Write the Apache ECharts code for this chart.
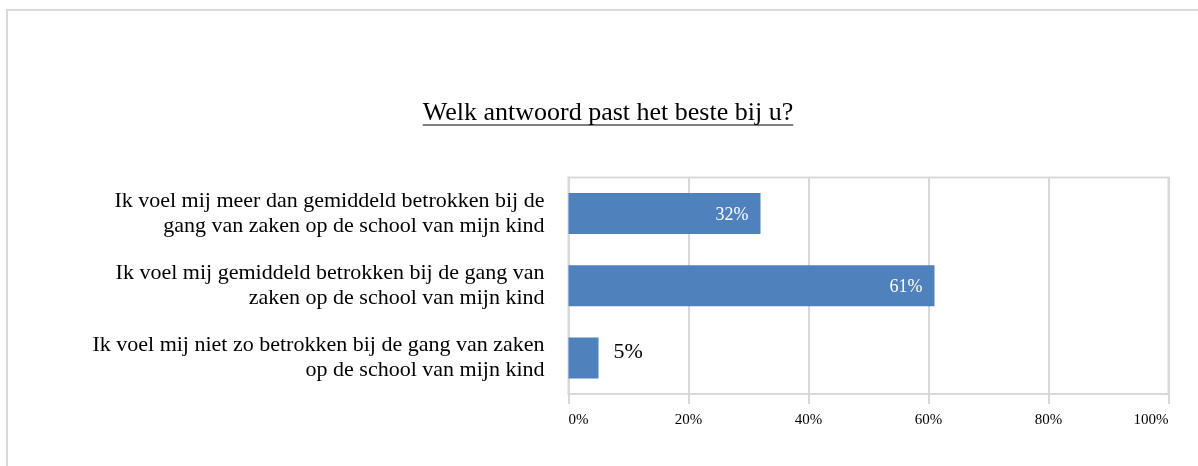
<!DOCTYPE html>
<html>
<head>
<meta charset="utf-8">
<title>Welk antwoord past het beste bij u?</title>
<script src="https://cdn.jsdelivr.net/npm/echarts@6/dist/echarts.min.js"></script>
<style>
    html, body { margin: 0; padding: 0; background: #fff; }
    #chart { width: 1198px; height: 466px; }
</style>
</head>
<body>
<div id="chart"></div>
<script>
// data
var titleText = 'Welk antwoord past het beste bij u?';
var categories = [
    'Ik voel mij meer dan gemiddeld betrokken bij de\ngang van zaken op de school van mijn kind',
    'Ik voel mij gemiddeld betrokken bij de gang van\nzaken op de school van mijn kind',
    'Ik voel mij niet zo betrokken bij de gang van zaken\nop de school van mijn kind'
];
var values = [32, 61, 5];
var labelInside = [true, true, false];
var tickValues = [0, 20, 40, 60, 80, 100];

var serif = '"Liberation Serif", "Times New Roman", serif';
var gridColor = '#d9d9d9';

// title width for the underline
var ctx = document.createElement('canvas').getContext('2d');
ctx.font = '26px ' + serif;
var titleW = ctx.measureText(titleText).width;
var titleX = 608;

// bar items with label per bar
var barData = values.map(function (v, i) {
    var inside = labelInside[i];
    return {
        value: v,
        label: inside ? {
            position: 'insideRight',
            distance: 12,
            color: '#fff',
            fontSize: 18,
            offset: [0, 2]
        } : {
            position: 'right',
            distance: 15,
            color: '#000',
            fontSize: 22,
            offset: [0, -6]
        }
    };
});

var myChart = echarts.init(document.getElementById('chart'), null, { renderer: 'canvas' });
var option = {
    animation: false,
    backgroundColor: '#fff',
    graphic: [
        {
            type: 'rect',
            shape: { x: 7, y: 10, width: 1200, height: 500 },
            style: { fill: 'none', stroke: gridColor, lineWidth: 2 },
            silent: true
        },
        {
            type: 'text',
            x: titleX,
            y: 113,
            style: {
                text: titleText,
                font: '26px ' + serif,
                fill: '#000',
                align: 'center',
                verticalAlign: 'middle'
            }
        },
        {
            type: 'line',
            shape: { x1: titleX - titleW / 2, y1: 125, x2: titleX + titleW / 2, y2: 125 },
            style: { stroke: '#000', lineWidth: 1.2 }
        }
    ],
    grid: {
        left: 568.5,
        right: 29.5,
        top: 177.5,
        height: 216.5,
        show: true,
        borderColor: gridColor,
        borderWidth: 2,
        containLabel: false
    },
    xAxis: {
        type: 'value',
        min: 0,
        max: 100,
        interval: 20,
        axisLine: { show: true, lineStyle: { color: gridColor, width: 2 } },
        axisTick: { show: true, length: 10, lineStyle: { color: gridColor, width: 2 } },
        splitLine: { show: true, lineStyle: { color: gridColor, width: 2 } },
        axisLabel: {
            margin: 19,
            fontFamily: serif,
            fontSize: 15,
            color: '#000',
            alignMinLabel: 'left',
            alignMaxLabel: 'right',
            formatter: function (v) {
                return tickValues.indexOf(v) >= 0 ? v + '%' : '';
            }
        }
    },
    yAxis: {
        type: 'category',
        inverse: true,
        data: categories,
        axisLine: { show: true, lineStyle: { color: gridColor, width: 2 } },
        axisTick: { show: false },
        axisLabel: {
            margin: 24,
            fontFamily: serif,
            fontSize: 22,
            lineHeight: 25,
            color: '#000',
            align: 'right'
        }
    },
    series: [{
        type: 'bar',
        data: barData,
        barWidth: 41,
        itemStyle: { color: '#4f81bd' },
        label: {
            show: true,
            fontFamily: serif,
            formatter: '{c}%'
        }
    }]
};
myChart.setOption(option);
</script>
</body>
</html>
